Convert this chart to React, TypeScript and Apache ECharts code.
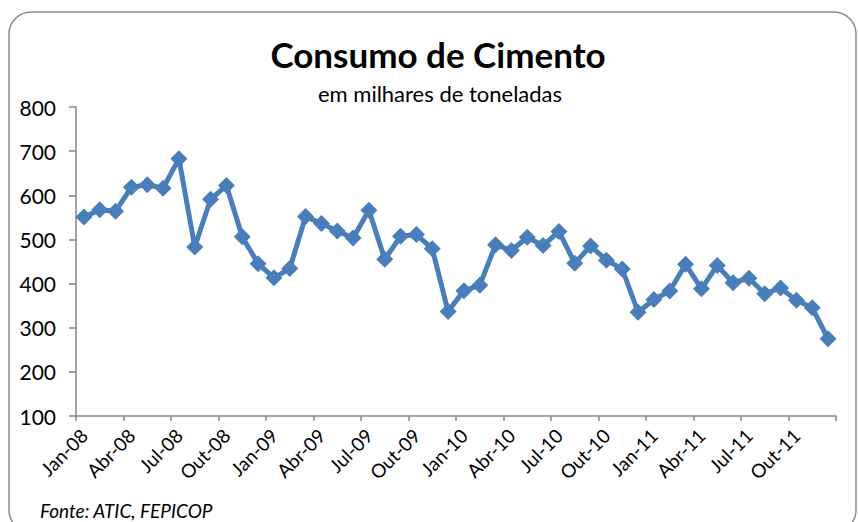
import React, { useEffect, useRef } from "react";
import * as echarts from "echarts";

const titleText = "Consumo de Cimento";
const subtitleText = "em milhares de toneladas";
const sourceText = "Fonte: ATIC, FEPICOP";

const months = ["Jan", "Fev", "Mar", "Abr", "Mai", "Jun", "Jul", "Ago", "Set", "Out", "Nov", "Dez"];
const years = ["08", "09", "10", "11"];
const categories: string[] = years.flatMap((y) => months.map((m) => `${m}-${y}`));

const consumo2008 = [551, 567, 564, 618, 624, 616, 683, 483, 591, 622, 506, 445];
const consumo2009 = [413, 434, 552, 536, 519, 503, 566, 455, 507, 511, 479, 337];
const consumo2010 = [384, 396, 488, 475, 505, 486, 518, 446, 485, 453, 433, 335];
const consumo2011 = [364, 383, 444, 388, 441, 402, 412, 377, 390, 362, 345, 275];
const consumo = [...consumo2008, ...consumo2009, ...consumo2010, ...consumo2011];

const yTicks = { min: 100, max: 800, interval: 100 };

const FONT = "Lato, 'Open Sans', sans-serif";

export default function App() {
  const ref = useRef<HTMLDivElement>(null);
  useEffect(() => {
    if (!ref.current) return;
    const chart = echarts.init(ref.current, null, { renderer: "svg" });
    chart.setOption({
      animation: false,
      backgroundColor: "#ffffff",
      textStyle: { fontFamily: FONT },
      grid: { left: 76, right: 22, top: 107, bottom: 106, containLabel: false },
      graphic: [
        {
          type: "rect",
          shape: { x: 9, y: 12, width: 847, height: 520, r: 22 },
          style: { fill: "none", stroke: "#8a8a8a", lineWidth: 1.5 },
          silent: true,
        },
        {
          type: "text",
          x: 438,
          y: 54,
          style: {
            text: titleText,
            fontFamily: FONT,
            fontSize: 35,
            fontWeight: "bold",
            fill: "#000000",
            align: "center",
            verticalAlign: "middle",
          },
        },
        {
          type: "text",
          x: 440,
          y: 93,
          style: {
            text: subtitleText,
            fontFamily: FONT,
            fontSize: 22,
            fill: "#000000",
            align: "center",
            verticalAlign: "middle",
          },
        },
        {
          type: "text",
          x: 40,
          y: 510,
          style: {
            text: sourceText,
            fontFamily: FONT,
            fontSize: 19,
            fontStyle: "italic",
            fill: "#000000",
            align: "left",
            verticalAlign: "middle",
          },
        },
      ],
      xAxis: {
        type: "category",
        data: categories,
        boundaryGap: true,
        axisLine: { lineStyle: { color: "#868686", width: 1.5 } },
        axisTick: { show: true, interval: 2, length: 5, lineStyle: { color: "#868686", width: 1.5 } },
        axisLabel: {
          interval: 2,
          rotate: 45,
          margin: 16,
          color: "#000000",
          fontSize: 19,
          fontFamily: FONT,
        },
        splitLine: { show: false },
      },
      yAxis: {
        type: "value",
        min: yTicks.min,
        max: yTicks.max,
        interval: yTicks.interval,
        axisLine: { show: true, lineStyle: { color: "#868686", width: 1.5 } },
        axisTick: { show: true, length: 7, lineStyle: { color: "#868686", width: 1.5 } },
        axisLabel: { margin: 20, color: "#000000", fontSize: 21, fontFamily: FONT },
        splitLine: { show: false },
      },
      series: [
        {
          type: "line",
          data: consumo,
          symbol: "diamond",
          symbolSize: 17,
          showAllSymbol: true,
          lineStyle: { color: "#4a7ebb", width: 5 },
          itemStyle: { color: "#4a7ebb" },
        },
      ],
    });
    return () => chart.dispose();
  }, []);
  return (
    <div
      ref={ref}
      style={{ position: "absolute", left: 0, top: 0, width: 858, height: 522 }}
    />
  );
}
